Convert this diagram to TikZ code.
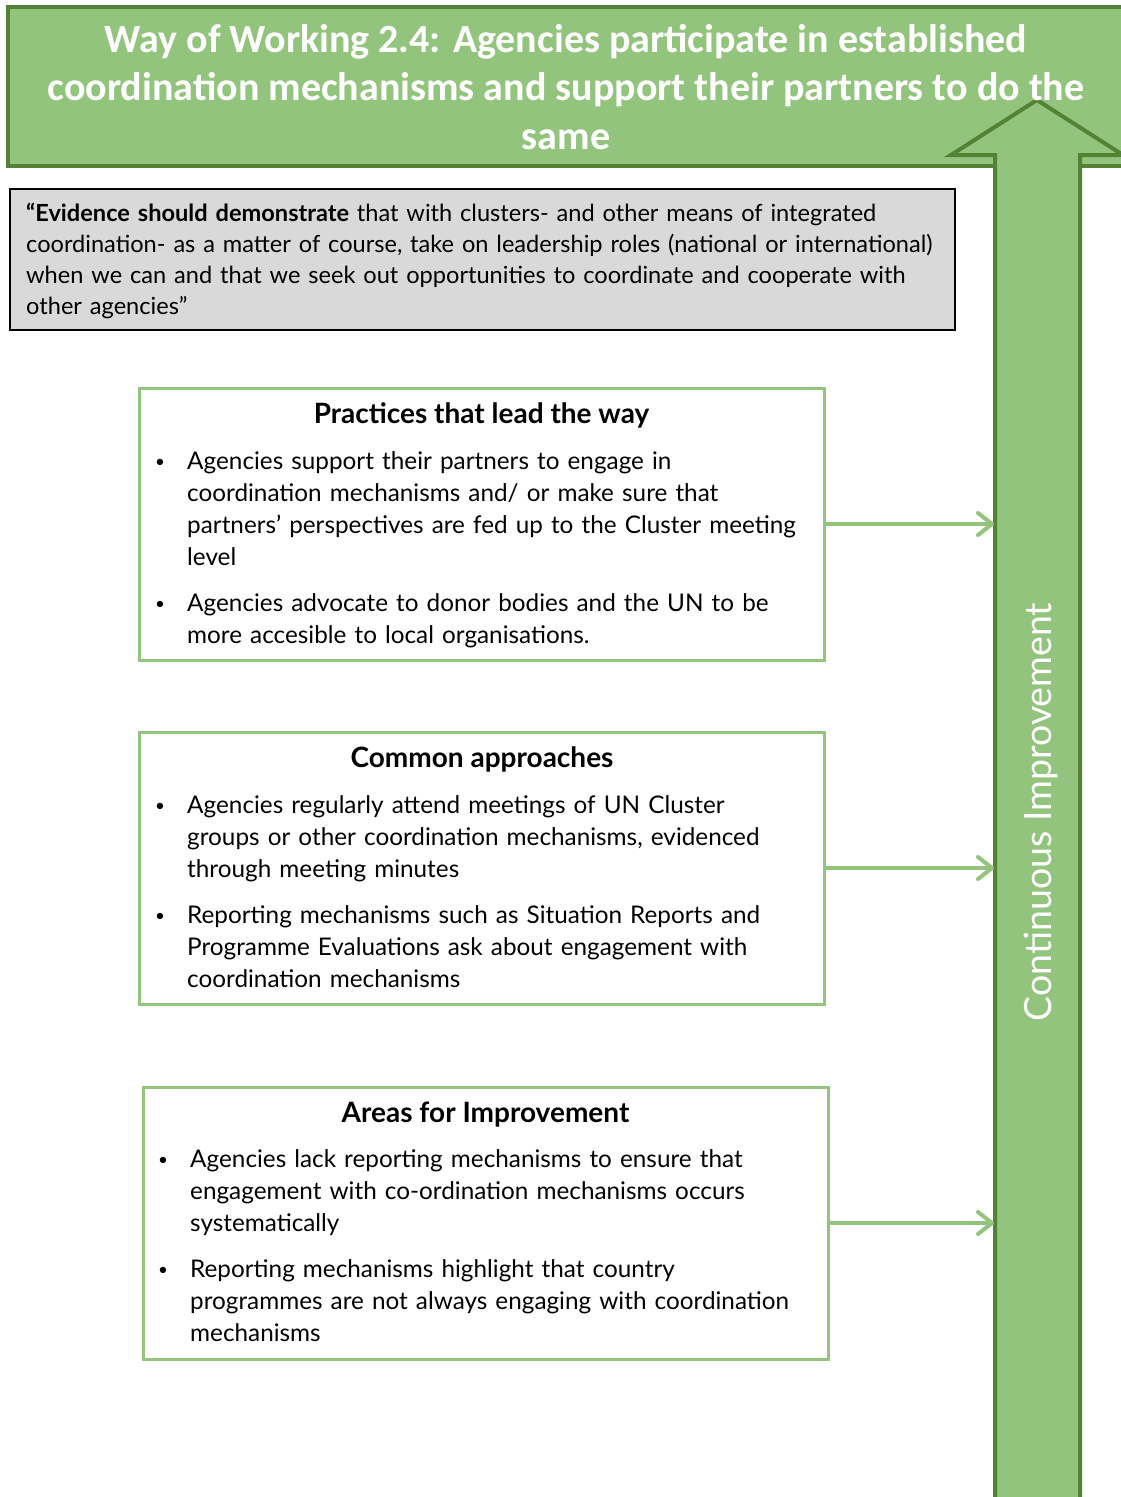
\documentclass[tikz,border=0pt]{standalone}
\usepackage{fontspec}
\setmainfont{Lato}
\newfontfamily\headfont{Carlito}
\usetikzlibrary{arrows.meta}

\definecolor{leaf}{RGB}{147,196,125}
\definecolor{moss}{RGB}{84,130,53}
\definecolor{quotegray}{RGB}{217,217,217}

% one bullet point with a hanging indent
\newcommand\bulletline[1]{\noindent\hangindent=35pt\hangafter=1%
  \makebox[35pt][l]{\hspace{3pt}\raisebox{1.5pt}{\fontsize{17}{17}\selectfont\textbullet}}#1\par}

\begin{document}
\begin{tikzpicture}[x=1pt,y=-1pt,
  titletext/.style={text=white, align=center, inner sep=0,
    font=\headfont\bfseries\fontsize{40}{48.5}\selectfont},
  quotebox/.style={draw=black, fill=quotegray, line width=1.5pt, inner sep=0},
  practicebox/.style={draw=leaf, line width=3pt, fill=white, inner sep=0,
    minimum width=685pt, minimum height=272pt},
  boxhead/.style={font=\bfseries\fontsize{28}{32}\selectfont, inner sep=0, anchor=base},
  bodylist/.style={text width=650pt, align=left, inner sep=0, anchor=north west,
    font=\fontsize{24.3}{32}\selectfont},
  feed/.style={draw=leaf, line width=4pt, line cap=round,
    -{Straight Barb[length=14pt, width=22pt, line cap=round, line join=round]}},
]
\useasboundingbox (0,0) rectangle (1121,1497);
\clip (0,0) rectangle (1121,1497);

% title banner, running off the right edge
\draw[moss, fill=leaf, line width=4pt] (8,7) rectangle (1140,166);

% upward arrow of continuous improvement
\draw[moss, fill=leaf, line width=4pt, line join=miter]
  (995,1520) -- (995,155) -- (951,155) -- (1037,100) -- (1123,155)
  -- (1080,155) -- (1080,1520) -- cycle;
\coordinate (shaft) at (994,0);

\node[titletext] (title) at (566,87)
  {Way of Working 2.4: Agencies participate in established\\
   coordination mechanisms and support their partners to do the\\
   same};

\node[rotate=90, text=white, inner sep=0, font=\fontsize{37.5}{40}\selectfont]
  (ci) at (1041,812) {Continuous Improvement};

% evidence quote
\node[quotebox, minimum width=945pt, minimum height=141pt] (quote) at (482.5,259.5) {};
\node[text width=925pt, align=left, inner sep=0, anchor=north west,
  font=\fontsize{23.6}{31}\selectfont] (quotetext) at (26,203)
  {\textbf{“Evidence should demonstrate} that with clusters- and other means of integrated\newline
   coordination- as a matter of course, take on leadership roles (national or international)\newline
   when we can and that we seek out opportunities to coordinate and cooperate with\newline
   other agencies”};

% practices that lead the way
\node[practicebox] (b1) at (481.5,524) {};
\node[boxhead] (h1) at (481.5,423) {Practices that lead the way};
\node[bodylist] (l1) at (152,451)
  {\bulletline{Agencies support their partners to engage in\newline
     coordination mechanisms and/ or make sure that\newline
     partners’ perspectives are fed up to the Cluster meeting\newline
     level}
   \vspace{14pt}
   \bulletline{Agencies advocate to donor bodies and the UN to be\newline
     more accesible to local organisations.}};

% common approaches
\node[practicebox] (b2) at (482,868) {};
\node[boxhead] (h2) at (482,767) {Common approaches};
\node[bodylist] (l2) at (152,795)
  {\bulletline{Agencies regularly attend meetings of UN Cluster\newline
     groups or other coordination mechanisms, evidenced\newline
     through meeting minutes}
   \vspace{14pt}
   \bulletline{Reporting mechanisms such as Situation Reports and\newline
     Programme Evaluations ask about engagement with\newline
     coordination mechanisms}};

% areas for improvement
\node[practicebox] (b3) at (485.5,1223) {};
\node[boxhead] (h3) at (485.5,1122) {Areas for Improvement};
\node[bodylist] (l3) at (155,1149)
  {\bulletline{Agencies lack reporting mechanisms to ensure that\newline
     engagement with co-ordination mechanisms occurs\newline
     systematically}
   \vspace{14pt}
   \bulletline{Reporting mechanisms highlight that country\newline
     programmes are not always engaging with coordination\newline
     mechanisms}};

% links into the arrow
\draw[feed] (b1.east) -- (b1.east -| shaft);
\draw[feed] (b2.east) -- (b2.east -| shaft);
\draw[feed] (b3.east) -- (b3.east -| shaft);
\end{tikzpicture}
\end{document}
